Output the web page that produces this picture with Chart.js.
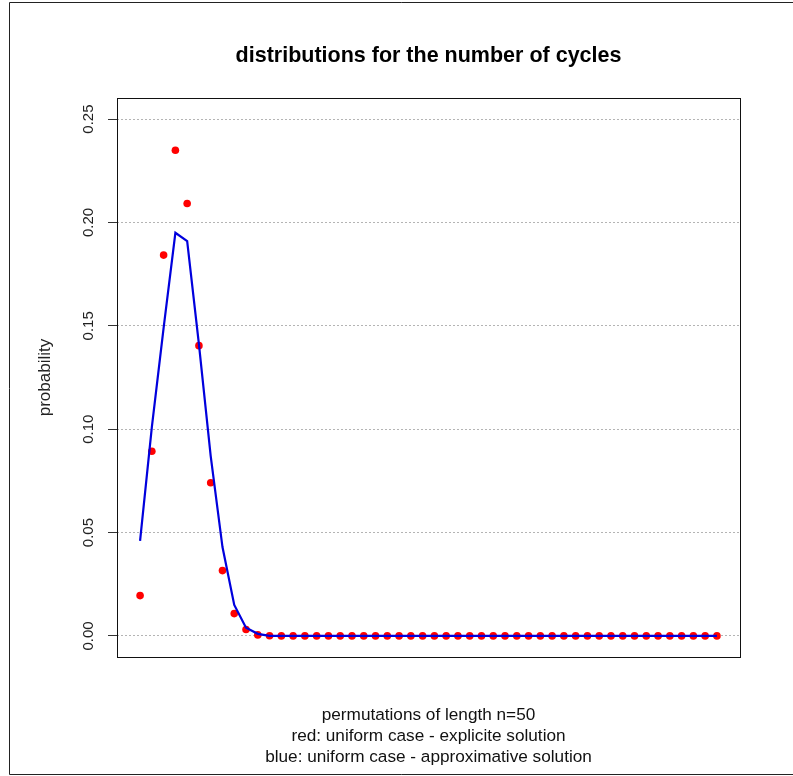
<!DOCTYPE html>
<html>
<head>
<meta charset="utf-8">
<script src="https://cdn.jsdelivr.net/npm/chart.js@4"></script>
<style>
  body { margin: 0; background: #fff; }
  #wrap { width: 793px; height: 776px; }
</style>
</head>
<body>
<div id="wrap"><canvas id="cycles" width="793" height="776"></canvas></div>
<script>
// number of cycles k = 1..50
const cycles = Array.from({ length: 50 }, (_, i) => i + 1);

// red: uniform case, explicit solution
const explicitProb = [
  0.0195, 0.0893, 0.1842, 0.2349, 0.2092, 0.1404, 0.0741, 0.0316, 0.0108, 0.0031,
  0.0005, 0.0001, 0, 0, 0, 0, 0, 0, 0, 0,
  0, 0, 0, 0, 0, 0, 0, 0, 0, 0,
  0, 0, 0, 0, 0, 0, 0, 0, 0, 0,
  0, 0, 0, 0, 0, 0, 0, 0, 0, 0,
];

// blue: uniform case, approximative solution
const approxProb = [
  0.046, 0.101, 0.149, 0.195, 0.191, 0.141, 0.087, 0.043, 0.015, 0.004,
  0.001, 0, 0, 0, 0, 0, 0, 0, 0, 0,
  0, 0, 0, 0, 0, 0, 0, 0, 0, 0,
  0, 0, 0, 0, 0, 0, 0, 0, 0, 0,
  0, 0, 0, 0, 0, 0, 0, 0, 0, 0,
];

const yTicks = [0, 0.05, 0.10, 0.15, 0.20, 0.25];
const yTickLabels = ['0.00', '0.05', '0.10', '0.15', '0.20', '0.25'];

const titleText = 'distributions for the number of cycles';
const yTitle = 'probability';
const subLines = [
  'permutations of length n=50',
  'red: uniform case - explicite solution',
  'blue: uniform case - approximative solution',
];

const FONT = '"Liberation Sans", Arial, sans-serif';

// box, frame, labels and captions in the base-graphics look
const decorations = {
  id: 'decorations',
  afterDraw(chart) {
    const { ctx, chartArea, scales } = chart;
    const cx = (chartArea.left + chartArea.right) / 2;
    ctx.save();

    // outer frame
    ctx.strokeStyle = '#222';
    ctx.lineWidth = 1;
    ctx.beginPath();
    ctx.moveTo(793, 2.5);
    ctx.lineTo(9.5, 2.5);
    ctx.lineTo(9.5, 774.5);
    ctx.lineTo(793, 774.5);
    ctx.stroke();

    // plot box
    ctx.strokeStyle = '#111';
    ctx.strokeRect(chartArea.left + 0.5, chartArea.top + 0.5,
      chartArea.right - chartArea.left, chartArea.bottom - chartArea.top);

    // title
    ctx.fillStyle = '#000';
    ctx.font = 'bold 21.5px ' + FONT;
    ctx.textAlign = 'center';
    ctx.textBaseline = 'middle';
    ctx.fillText(titleText, cx, 56);

    // captions under the plot
    ctx.font = '17.2px ' + FONT;
    ctx.fillStyle = '#111';
    subLines.forEach((line, i) => ctx.fillText(line, cx, 715.5 + i * 21));

    // rotated y tick labels
    const y = scales.y;
    ctx.font = '15px ' + FONT;
    ctx.fillStyle = '#222';
    yTicks.forEach((v, i) => {
      ctx.save();
      ctx.translate(89, y.getPixelForValue(v));
      ctx.rotate(-Math.PI / 2);
      ctx.fillText(yTickLabels[i], 0, 0);
      ctx.restore();
    });

    // y axis title
    ctx.font = '17px ' + FONT;
    ctx.save();
    ctx.translate(45, (chartArea.top + chartArea.bottom) / 2);
    ctx.rotate(-Math.PI / 2);
    ctx.fillText(yTitle, 0, 0);
    ctx.restore();

    ctx.restore();
  },
};

new Chart(document.getElementById('cycles').getContext('2d'), {
  type: 'scatter',
  data: {
    datasets: [
      {
        label: 'approximative',
        data: cycles.map((k, i) => ({ x: k, y: approxProb[i] })),
        showLine: true,
        borderColor: '#0000dd',
        borderWidth: 2.2,
        pointRadius: 0,
        tension: 0,
        order: 0,
      },
      {
        label: 'explicit',
        data: cycles.map((k, i) => ({ x: k, y: explicitProb[i] })),
        showLine: false,
        backgroundColor: '#ff0000',
        borderColor: '#ff0000',
        borderWidth: 0,
        pointRadius: 3.8,
        order: 1,
      },
    ],
  },
  options: {
    responsive: false,
    animation: false,
    layout: { padding: { top: 98, right: 53, bottom: 119, left: 0 } },
    plugins: {
      legend: { display: false },
      tooltip: { enabled: false },
    },
    scales: {
      x: {
        type: 'linear',
        display: false,
        min: -0.96,
        max: 51.96,
      },
      y: {
        type: 'linear',
        min: -0.0102,
        max: 0.2602,
        afterBuildTicks(scale) {
          scale.ticks = yTicks.map(v => ({ value: v }));
        },
        afterFit(scale) {
          scale.width = 117;
        },
        ticks: { display: false },
        border: { display: false, dash: [2, 2] },
        grid: {
          color: '#b4b4b4',
          lineWidth: 1,
          drawTicks: true,
          tickLength: 9,
          tickColor: '#333',
          tickBorderDash: [],
        },
      },
    },
  },
  plugins: [decorations],
});
</script>
</body>
</html>
